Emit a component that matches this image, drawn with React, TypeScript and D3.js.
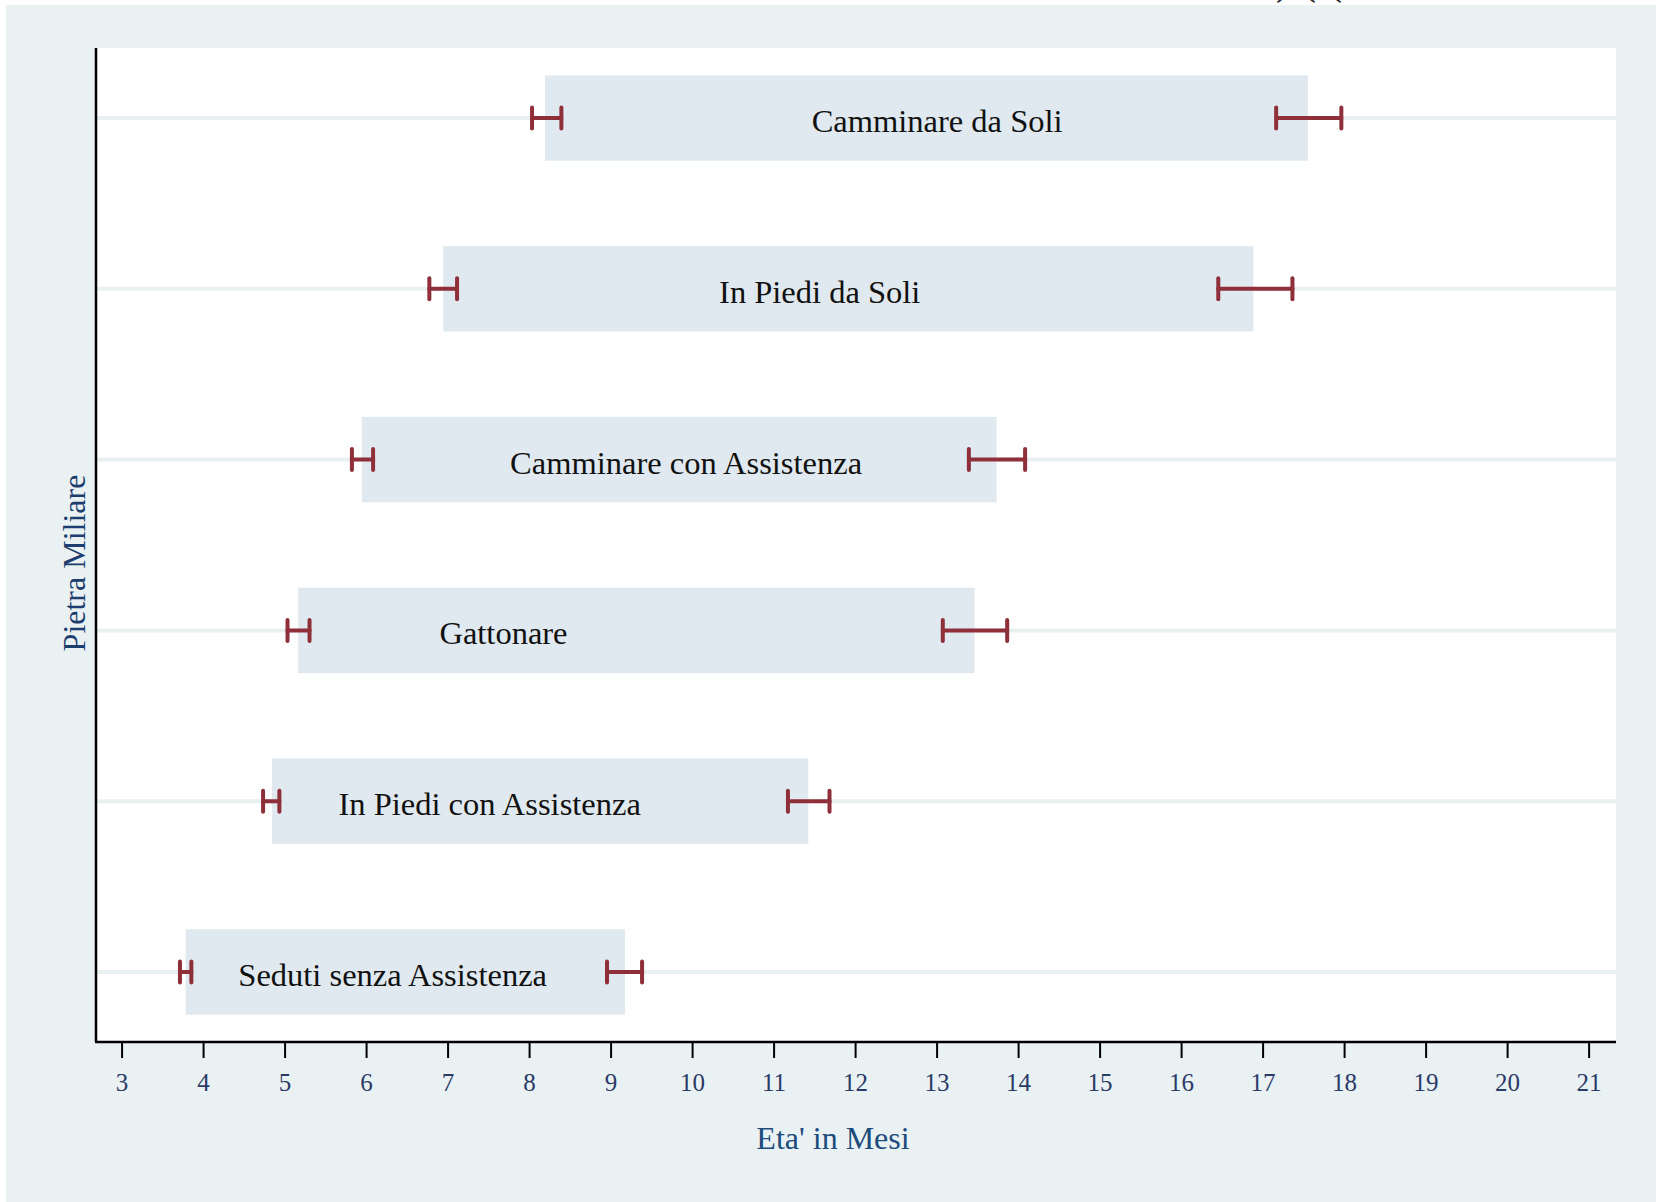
import React from 'react';
import * as d3 from 'd3';

// pietre miliari, dall'alto verso il basso
const milestones = [
  'Camminare da Soli',
  'In Piedi da Soli',
  'Camminare con Assistenza',
  'Gattonare',
  'In Piedi con Assistenza',
  'Seduti senza Assistenza',
];
// inizio / fine della fascia (mesi)
const barStart = [8.19, 6.94, 5.94, 5.16, 4.84, 3.78];
const barEnd = [17.55, 16.88, 13.73, 13.46, 11.42, 9.17];
// intervalli di confidenza a inizio e fine
const startLow = [8.03, 6.77, 5.82, 5.03, 4.73, 3.71];
const startHigh = [8.39, 7.11, 6.08, 5.3, 4.93, 3.85];
const endLow = [17.16, 16.45, 13.39, 13.07, 11.17, 8.95];
const endHigh = [17.96, 17.36, 14.08, 13.86, 11.68, 9.38];
// posizione delle etichette (mesi)
const labelX = [13.0, 11.56, 9.92, 7.68, 7.51, 6.32];
const xTicks = [3, 4, 5, 6, 7, 8, 9, 10, 11, 12, 13, 14, 15, 16, 17, 18, 19, 20, 21];

const W = 1656;
const H = 1202;
const plot = { left: 96, right: 1616, top: 48, bottom: 1042 };
const serif = '"Liberation Serif", "Times New Roman", serif';
const red = '#8f2f3a';

export default function App() {
  const x = d3.scaleLinear().domain([2.68, 21.33]).range([plot.left, plot.right]);
  const y = d3.scalePoint<string>().domain(milestones).range([plot.top, plot.bottom]).padding(0.41);
  const bandH = y.step() * 0.5;
  const capH = 10.5;

  const errBar = (lo: number, hi: number, cy: number, key: string) => (
    <g key={key} stroke={red} strokeWidth={4} strokeLinecap="round">
      <line x1={x(lo)} x2={x(hi)} y1={cy} y2={cy} />
      <line x1={x(lo)} x2={x(lo)} y1={cy - capH} y2={cy + capH} />
      <line x1={x(hi)} x2={x(hi)} y1={cy - capH} y2={cy + capH} />
    </g>
  );

  return (
    <svg width={W} height={H} style={{ position: 'absolute', left: 0, top: 0, display: 'block' }}>
      <rect x={6} y={5} width={W - 6} height={H - 5} fill="#e9f1f3" />
      <rect x={plot.left} y={plot.top} width={plot.right - plot.left} height={plot.bottom - plot.top} fill="#ffffff" />

      {/* frammento di testo tagliato in alto */}
      <text x={1276} y={-6} fontFamily={serif} fontSize={42} letterSpacing={12} fill="#222">)((</text>

      {/* griglia */}
      {milestones.map((m) => (
        <line key={'g' + m} x1={plot.left} x2={plot.right} y1={y(m)} y2={y(m)} stroke="#e8f0f2" strokeWidth={4} />
      ))}

      {/* fasce */}
      {milestones.map((m, i) => (
        <rect
          key={'b' + m}
          x={x(barStart[i])}
          y={(y(m) as number) - bandH / 2}
          width={x(barEnd[i]) - x(barStart[i])}
          height={bandH}
          fill="#e0e9ef"
        />
      ))}

      {/* intervalli */}
      {milestones.map((m, i) => (
        <g key={'e' + m}>
          {errBar(startLow[i], startHigh[i], y(m) as number, 's')}
          {errBar(endLow[i], endHigh[i], y(m) as number, 'f')}
        </g>
      ))}

      {/* etichette */}
      {milestones.map((m, i) => (
        <text
          key={'t' + m}
          x={x(labelX[i])}
          y={(y(m) as number) + 14}
          textAnchor="middle"
          fontFamily={serif}
          fontSize={32.5}
          fill="#111"
        >
          {m}
        </text>
      ))}

      {/* assi */}
      <line x1={plot.left} x2={plot.left} y1={plot.top} y2={plot.bottom} stroke="#000" strokeWidth={2.5} />
      <line x1={plot.left - 1} x2={plot.right} y1={plot.bottom} y2={plot.bottom} stroke="#000" strokeWidth={2.5} />
      {xTicks.map((t) => (
        <g key={'x' + t}>
          <line x1={x(t)} x2={x(t)} y1={plot.bottom} y2={plot.bottom + 16} stroke="#000" strokeWidth={2} />
          <text x={x(t)} y={1091} textAnchor="middle" fontFamily={serif} fontSize={25} fill="#2b3a67">
            {t}
          </text>
        </g>
      ))}

      <text x={833} y={1149} textAnchor="middle" fontFamily={serif} fontSize={32} fill="#1c4b7c">
        Eta' in Mesi
      </text>
      <text
        transform="translate(85,563) rotate(-90)"
        textAnchor="middle"
        fontFamily={serif}
        fontSize={32}
        fill="#1c3d6e"
      >
        Pietra Miliare
      </text>
    </svg>
  );
}
